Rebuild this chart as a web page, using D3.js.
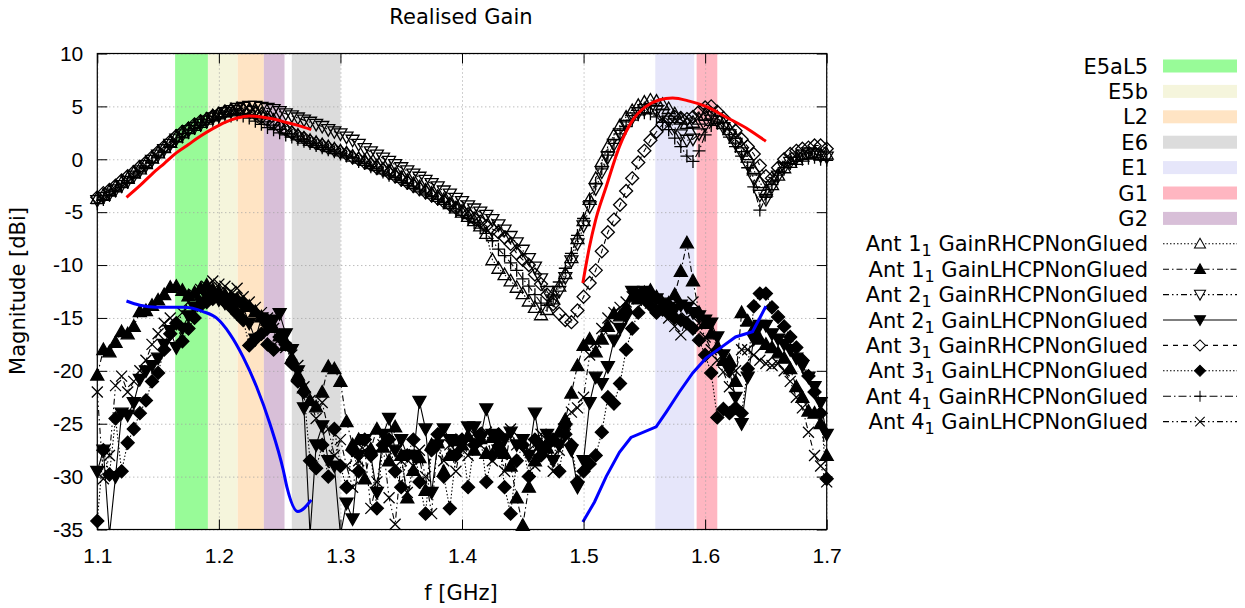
<!DOCTYPE html>
<html lang="en">
<head>
<meta charset="utf-8">
<title>Realised Gain</title>
<script src="https://d3js.org/d3.v7.min.js"></script>
<style>
  body { margin: 0; background: white; }
  svg { font-family: "DejaVu Sans", Verdana, sans-serif; }
  .grid line { stroke: #a0a0a0; stroke-dasharray: 1,3; }
  .axis text { font-size: 21px; fill: #000; }
  .axis line { stroke: #000; }
</style>
</head>
<body>
<div id="chart"></div>
<script>
// frequency grid (GHz), one sample every 5 MHz from 1.100 to 1.700
var freqStart = 1.1, freqStep = 0.005, freqCount = 121;

// RHCP / LHCP realised gain per antenna (dBi)
var ant1Rhcp = [
  -3.7,-3.4,-3.0,-2.6,-2.2,-1.8,-1.3,-0.9,-0.4,0.1,
  0.6,1.1,1.6,2.1,2.5,2.9,3.2,3.5,3.8,4.1,
  4.3,4.5,4.7,4.8,4.8,4.7,4.5,4.3,4.0,3.7,
  3.3,2.9,2.6,2.3,2.0,1.8,1.6,1.4,1.2,1.0,
  0.8,0.6,0.3,0.1,-0.1,-0.4,-0.6,-0.9,-1.1,-1.4,
  -1.7,-2.0,-2.3,-2.6,-2.9,-3.2,-3.5,-3.8,-4.2,-4.6,
  -5.0,-5.4,-5.8,-6.3,-7.0,-9.5,-10.3,-10.9,-11.5,-12.1,
  -12.7,-13.4,-14.0,-14.7,-14.2,-13.2,-12.0,-10.8,-9.3,-7.5,
  -5.8,-3.8,-1.8,-0.2,1.2,2.3,3.2,4.0,4.6,5.1,
  5.4,5.6,5.5,5.2,4.8,4.3,3.8,3.4,3.5,3.8,
  4.2,4.3,4.0,3.4,2.8,2.0,1.2,0.2,-1.0,-2.2,
  -3.0,-2.4,-1.5,-0.8,-0.3,0.0,0.3,0.5,0.6,0.4,
  0.5];
var ant1Lhcp = [
  -20.4,-18.0,-18.2,-17.3,-16.3,-16.5,-15.8,-14.4,-14.3,-13.8,
  -13.3,-12.8,-12.1,-12.0,-12.4,-12.9,-12.6,-12.2,-11.9,-12.3,
  -12.5,-12.8,-13.0,-13.2,-13.5,-13.9,-14.4,-14.9,-15.2,-15.9,
  -16.7,-17.6,-18.8,-20.4,-21.6,-22.8,-23.4,-22.0,-19.6,-19.8,
  -21.0,-24.8,-27.0,-26.5,-30.2,-27.4,-25.5,-27.2,-28.5,-25.3,
  -28.0,-32.0,-29.4,-28.2,-31.3,-27.0,-26.8,-29.5,-28.0,-26.6,
  -27.0,-26.2,-27.5,-26.4,-27.8,-26.3,-26.9,-27.8,-29.0,-32.0,
  -34.6,-31.0,-28.5,-27.0,-27.3,-26.6,-25.8,-24.6,-22.1,-19.5,
  -17.6,-17.0,-18.2,-17.0,-15.8,-14.6,-14.8,-14.0,-13.0,-13.2,
  -12.6,-12.4,-13.0,-13.6,-13.6,-12.8,-10.6,-7.9,-11.5,-14.5,
  -15.5,-16.5,-17.8,-19.0,-19.0,-21.0,-14.5,-15.3,-16.0,-17.0,
  -17.5,-17.8,-18.3,-18.8,-19.8,-21.5,-22.5,-23.8,-24.0,-25.0,
  -28.0];
var ant2Rhcp = [
  -3.9,-3.6,-3.3,-2.9,-2.5,-2.1,-1.6,-1.1,-0.6,-0.1,
  0.4,0.9,1.4,1.9,2.3,2.7,3.0,3.3,3.6,3.9,
  4.1,4.4,4.6,4.8,4.9,5.0,5.0,4.9,4.8,4.7,
  4.5,4.3,4.1,3.9,3.7,3.5,3.3,3.1,2.8,2.6,
  2.4,2.1,1.8,1.4,1.0,0.7,0.4,0.1,-0.2,-0.5,
  -0.8,-1.1,-1.4,-1.7,-2.0,-2.3,-2.6,-3.0,-3.3,-3.7,
  -4.0,-4.4,-4.7,-5.0,-5.3,-5.7,-6.2,-6.7,-7.3,-7.9,
  -8.6,-9.4,-10.2,-11.3,-12.5,-13.3,-12.5,-11.2,-9.6,-8.0,
  -6.3,-4.5,-2.8,-1.2,0.2,1.4,2.4,3.2,3.9,4.4,
  4.7,4.8,4.6,4.2,3.6,3.0,2.3,1.8,1.9,2.4,
  3.2,3.7,3.6,3.0,2.3,1.5,0.6,-0.5,-1.8,-3.4,
  -3.8,-2.6,-1.6,-0.8,-0.3,0.1,0.4,0.6,0.5,0.3,
  0.2];
var ant2Lhcp = [
  -29.5,-27.5,-35.5,-30.0,-24.0,-24.2,-23.0,-20.8,-20.0,-19.5,
  -18.8,-17.5,-16.2,-17.8,-16.0,-14.8,-14.0,-13.5,-13.0,-12.8,
  -13.3,-13.6,-13.2,-13.5,-14.0,-15.5,-17.0,-15.0,-16.0,-15.2,
  -14.6,-16.5,-18.0,-20.0,-23.5,-35.5,-27.0,-25.2,-28.5,-29.0,
  -35.5,-32.5,-34.0,-28.0,-26.5,-28.0,-31.5,-26.0,-24.5,-27.5,
  -26.5,-28.0,-28.0,-22.9,-25.5,-31.5,-27.0,-25.5,-26.5,-28.0,
  -27.0,-25.3,-25.3,-26.5,-23.6,-26.0,-27.5,-26.5,-25.8,-27.0,
  -26.5,-28.0,-24.0,-27.5,-26.0,-28.5,-27.0,-25.5,-27.5,-31.0,
  -28.5,-23.0,-20.6,-21.2,-19.6,-17.1,-16.0,-14.9,-12.5,-12.8,
  -12.5,-13.0,-13.2,-13.6,-14.0,-14.2,-13.8,-14.0,-14.5,-14.8,
  -15.2,-15.5,-16.8,-18.5,-20.0,-22.5,-25.0,-20.6,-17.0,-15.7,
  -15.7,-16.5,-17.0,-17.5,-18.0,-18.8,-19.5,-20.6,-21.5,-23.0,
  -26.0];
var ant3Rhcp = [
  -3.6,-3.2,-2.9,-2.5,-2.0,-1.6,-1.2,-0.7,-0.3,0.2,
  0.7,1.2,1.7,2.2,2.6,2.9,3.3,3.6,3.8,4.1,
  4.3,4.5,4.6,4.7,4.6,4.5,4.3,4.0,3.7,3.4,
  3.1,2.8,2.5,2.2,2.0,1.7,1.5,1.3,1.1,0.9,
  0.7,0.5,0.2,0.0,-0.3,-0.5,-0.8,-1.0,-1.3,-1.6,
  -1.9,-2.2,-2.5,-2.8,-3.1,-3.4,-3.7,-4.0,-4.3,-4.6,
  -4.9,-5.2,-5.6,-5.9,-6.3,-6.6,-6.9,-7.4,-8.0,-8.9,
  -9.5,-10.0,-10.9,-11.8,-12.8,-13.7,-14.6,-15.2,-15.4,-14.3,
  -13.0,-11.7,-10.5,-8.7,-6.9,-5.7,-4.3,-3.0,-1.8,-0.3,
  0.8,1.8,2.6,3.3,3.8,4.0,3.9,3.8,4.0,4.5,
  4.9,5.0,4.5,3.9,3.3,2.7,1.9,1.2,0.5,-0.6,
  -1.6,-1.8,-0.8,0.0,0.5,0.8,1.0,1.1,1.3,1.3,
  1.0];
var ant3Lhcp = [
  -34.2,-27.5,-29.8,-24.5,-29.5,-26.8,-25.5,-24.0,-22.8,-21.0,
  -20.2,-18.0,-16.5,-15.5,-17.2,-16.0,-15.0,-13.8,-13.5,-13.2,
  -13.0,-13.5,-14.0,-14.6,-15.2,-17.6,-17.0,-16.5,-17.5,-18.0,
  -16.8,-17.5,-19.3,-21.0,-22.0,-28.5,-29.2,-27.0,-30.0,-25.5,
  -29.0,-31.0,-27.5,-29.5,-26.5,-28.0,-33.0,-27.0,-26.5,-29.5,
  -31.0,-28.0,-26.5,-30.5,-33.5,-27.5,-26.0,-30.0,-33.0,-28.0,
  -26.5,-31.0,-27.0,-26.0,-30.5,-28.0,-26.0,-31.0,-33.5,-28.5,
  -27.0,-30.0,-26.5,-28.0,-27.0,-26.5,-29.5,-26.0,-27.0,-30.5,
  -29.5,-28.8,-28.0,-25.8,-22.5,-23.1,-21.2,-18.0,-16.0,-14.5,
  -13.2,-13.8,-14.5,-14.2,-14.6,-15.0,-15.2,-15.5,-16.0,-17.1,
  -18.5,-20.2,-24.4,-23.6,-24.0,-23.5,-24.0,-19.8,-13.9,-12.7,
  -12.7,-14.0,-14.9,-15.8,-16.8,-17.8,-19.0,-20.5,-22.0,-24.0,
  -30.2];
var ant4Rhcp = [
  -4.2,-3.8,-3.4,-3.0,-2.6,-2.2,-1.7,-1.2,-0.8,-0.3,
  0.2,0.7,1.2,1.7,2.1,2.5,2.9,3.2,3.5,3.7,
  3.9,4.0,4.1,4.2,4.1,3.9,3.6,3.3,3.0,2.8,
  2.5,2.3,2.1,1.9,1.7,1.5,1.3,1.1,0.9,0.7,
  0.5,0.3,0.1,-0.2,-0.4,-0.7,-0.9,-1.2,-1.5,-1.7,
  -2.0,-2.3,-2.6,-2.9,-3.2,-3.5,-3.8,-4.1,-4.5,-4.9,
  -5.3,-5.6,-6.0,-6.5,-7.0,-7.7,-8.5,-9.1,-9.8,-10.5,
  -11.3,-12.0,-12.8,-13.6,-13.8,-13.0,-11.6,-10.3,-8.9,-7.2,
  -5.6,-3.9,-2.3,-0.9,0.4,1.5,2.4,3.1,3.7,4.2,
  4.4,4.3,4.0,3.5,2.8,2.0,1.2,0.3,-0.2,0.8,
  2.3,3.2,3.4,2.9,2.1,1.2,0.3,-0.8,-2.6,-4.8,
  -3.6,-2.4,-1.5,-0.8,-0.4,-0.2,0.0,0.1,0.2,0.0,
  -0.1];
var ant4Lhcp = [
  -22.0,-30.2,-28.0,-21.4,-20.5,-22.0,-21.0,-20.0,-19.0,-17.5,
  -16.5,-15.5,-15.0,-15.8,-14.5,-13.5,-12.8,-12.3,-12.0,-11.5,
  -11.8,-12.0,-12.5,-12.2,-13.0,-13.5,-14.0,-14.5,-15.0,-16.0,
  -17.0,-17.8,-18.5,-19.5,-21.5,-22.8,-24.5,-23.0,-25.5,-28.0,
  -26.5,-29.0,-31.0,-28.5,-27.5,-33.0,-30.5,-27.0,-32.0,-34.5,
  -28.5,-31.5,-29.0,-27.5,-30.0,-33.5,-26.5,-28.5,-27.0,-29.5,
  -26.5,-28.0,-26.0,-27.0,-25.8,-28.5,-26.5,-29.5,-25.5,-27.0,
  -26.5,-27.5,-29.0,-26.0,-28.0,-29.5,-27.5,-26.0,-23.9,-23.5,
  -22.5,-18.5,-17.3,-16.0,-15.0,-14.5,-14.0,-13.5,-13.0,-13.2,
  -13.4,-13.6,-14.0,-14.4,-15.0,-15.8,-16.6,-15.0,-13.5,-15.5,
  -16.8,-18.0,-19.0,-20.1,-21.5,-20.0,-18.0,-18.0,-18.5,-19.0,
  -19.3,-19.5,-19.3,-20.0,-21.0,-22.5,-23.5,-25.8,-28.0,-29.0,
  -30.5];

// reference curves (freq, dBi) - red for RHCP, blue for LHCP
var redLow = [[1.124,-3.6],[1.135,-2.5],[1.145,-1.4],[1.155,-0.4],[1.165,0.6],[1.175,1.4],
  [1.185,2.2],[1.195,2.9],[1.205,3.5],[1.215,3.9],[1.225,4.1],[1.235,4.0],[1.245,3.8],
  [1.255,3.5],[1.265,3.2],[1.276,2.8]];
var redHigh = [[1.4994,-11.7],[1.5048,-8.3],[1.510,-5.7],[1.5186,-2.6],[1.5295,1.2],[1.5404,3.7],
  [1.5514,5.0],[1.562,5.6],[1.5733,5.8],[1.587,5.5],[1.6007,5.0],[1.617,4.0],[1.636,2.8],[1.650,1.7]];
var blueLow = [[1.124,-13.4],[1.135,-13.8],[1.149,-14.0],[1.171,-14.0],[1.187,-14.4],[1.198,-15.0],
  [1.209,-16.5],[1.220,-18.7],[1.231,-21.5],[1.242,-25.0],[1.253,-29.4],[1.256,-31.0],[1.265,-33.3],[1.276,-32.2]];
var blueHigh = [[1.4994,-34.3],[1.509,-32.4],[1.5186,-30.0],[1.5295,-27.7],[1.539,-26.3],[1.5597,-25.3],
  [1.568,-23.9],[1.5788,-22.0],[1.5898,-20.2],[1.6007,-18.8],[1.6117,-17.9],[1.625,-16.8],[1.639,-16.3],[1.650,-13.9]];

// GNSS bands (GHz)
var bandNames = ["E5aL5", "E5b", "L2", "E6", "E1", "G1", "G2"];
var bandLo = [1.164, 1.191, 1.2155, 1.260, 1.559, 1.593, 1.237];
var bandHi = [1.191, 1.2155, 1.237, 1.300, 1.591, 1.610, 1.254];

var seriesNames = ["Ant 1|GainRHCPNonGlued", "Ant 1|GainLHCPNonGlued", "Ant 2|GainRHCPNonGlued",
  "Ant 2|GainLHCPNonGlued", "Ant 3|GainRHCPNonGlued", "Ant 3|GainLHCPNonGlued",
  "Ant 4|GainRHCPNonGlued", "Ant 4|GainLHCPNonGlued"];
var seriesValues = [ant1Rhcp, ant1Lhcp, ant2Rhcp, ant2Lhcp, ant3Rhcp, ant3Lhcp, ant4Rhcp, ant4Lhcp];

var xTicks = [1.1, 1.2, 1.3, 1.4, 1.5, 1.6, 1.7];
var yTicks = [10, 5, 0, -5, -10, -15, -20, -25, -30, -35];

// styles
var bandColors = ["#98fb98", "#f5f5dc", "#ffe4c4", "#dcdcdc", "#e6e6fa", "#ffb6c1", "#d8bfd8"];
var shapes = {
  triUp: "M0,-6.5L6.5,5L-6.5,5Z",
  triDown: "M0,6.5L6.5,-5L-6.5,-5Z",
  diamond: "M0,-6.5L6.5,0L0,6.5L-6.5,0Z",
  plus: "M-6.5,0H6.5M0,-6.5V6.5",
  cross: "M-5.5,-5.5L5.5,5.5M-5.5,5.5L5.5,-5.5"
};
var seriesStyle = [
  {shape: "triUp", fill: "none", dash: "1.5,2"},
  {shape: "triUp", fill: "#000", dash: "6,3,1.5,3"},
  {shape: "triDown", fill: "none", dash: "6,3,1.5,3,1.5,3"},
  {shape: "triDown", fill: "#000", dash: null},
  {shape: "diamond", fill: "none", dash: "5,5"},
  {shape: "diamond", fill: "#000", dash: "1.5,2"},
  {shape: "plus", fill: "none", dash: "8,3,1.5,3"},
  {shape: "cross", fill: "none", dash: "6,3,1.5,3,1.5,3"}
];

var margin = {top: 53.5, left: 97.3},
    width = 729.4,
    height = 476;

var svg = d3.select("#chart")
  .append("svg")
    .attr("width", 1245)
    .attr("height", 608);

var g = svg.append("g")
    .attr("transform", "translate(" + margin.left + "," + margin.top + ")");

var x = d3.scaleLinear().domain([1.1, 1.7]).range([0, width]);
var y = d3.scaleLinear().domain([-35, 10]).range([height, 0]);

g.append("clipPath").attr("id", "clip")
  .append("rect").attr("width", width).attr("height", height);

// bands
bandNames.forEach(function(name, i) {
  g.append("rect")
    .attr("x", x(bandLo[i]))
    .attr("y", 0)
    .attr("width", x(bandHi[i]) - x(bandLo[i]))
    .attr("height", height)
    .attr("fill", bandColors[i]);
});

// grid
g.append("g")
  .attr("class", "grid")
  .attr("transform", "translate(0," + height + ")")
  .call(d3.axisBottom(x).tickValues(xTicks).tickSize(-height).tickFormat(""))
  .call(function(s) { s.select(".domain").remove(); });
g.append("g")
  .attr("class", "grid")
  .call(d3.axisLeft(y).tickValues(yTicks).tickSize(-width).tickFormat(""))
  .call(function(s) { s.select(".domain").remove(); });

var freqs = d3.range(freqCount).map(function(i) { return freqStart + i * freqStep; });

var line = d3.line()
  .x(function(d) { return x(d[0]); })
  .y(function(d) { return y(d[1]); });

// measured series
seriesValues.forEach(function(vals, k) {
  var st = seriesStyle[k];
  var pts = vals.map(function(v, i) { return [freqs[i], v]; });
  g.append("path")
    .datum(pts)
    .attr("clip-path", "url(#clip)")
    .attr("fill", "none")
    .attr("stroke", "#000")
    .attr("stroke-width", 1.1)
    .attr("stroke-dasharray", st.dash)
    .attr("d", line);
  g.append("g").selectAll("path")
    .data(pts.filter(function(d) { return d[1] >= -35 && d[1] <= 10; }))
    .enter()
    .append("path")
      .attr("transform", function(d) { return "translate(" + x(d[0]) + "," + y(d[1]) + ")"; })
      .attr("d", shapes[st.shape])
      .attr("fill", st.fill)
      .attr("stroke", "#000")
      .attr("stroke-width", 1.3);
});

// red / blue curves
var smooth = d3.line()
  .x(function(d) { return x(d[0]); })
  .y(function(d) { return y(d[1]); })
  .curve(d3.curveMonotoneX);
[[redLow, "#ff0000", smooth], [redHigh, "#ff0000", smooth],
 [blueLow, "#0000ff", smooth], [blueHigh, "#0000ff", line]].forEach(function(c) {
  g.append("path")
    .datum(c[0])
    .attr("clip-path", "url(#clip)")
    .attr("fill", "none")
    .attr("stroke", c[1])
    .attr("stroke-width", 3)
    .attr("d", c[2]);
});

// axes, ticks mirrored inward
g.append("g")
  .attr("class", "axis")
  .attr("transform", "translate(0," + height + ")")
  .call(d3.axisBottom(x).tickValues(xTicks).tickSize(-10).tickSizeOuter(0).tickPadding(19)
    .tickFormat(function(d) { return d.toFixed(1); }))
  .call(function(s) { s.select(".domain").remove(); });
g.append("g")
  .attr("class", "axis")
  .call(d3.axisTop(x).tickValues(xTicks).tickSize(-10).tickFormat(""))
  .call(function(s) { s.select(".domain").remove(); });
g.append("g")
  .attr("class", "axis")
  .call(d3.axisLeft(y).tickValues(yTicks).tickSize(-10).tickPadding(14)
    .tickFormat(function(d) { return String(d); }))
  .call(function(s) { s.select(".domain").remove(); });
g.append("g")
  .attr("class", "axis")
  .attr("transform", "translate(" + width + ",0)")
  .call(d3.axisRight(y).tickValues(yTicks).tickSize(-10).tickFormat(""))
  .call(function(s) { s.select(".domain").remove(); });

g.append("rect")
  .attr("width", width)
  .attr("height", height)
  .attr("fill", "none")
  .attr("stroke", "#000")
  .attr("stroke-width", 1.2);

// titles
svg.append("text")
  .attr("x", 461).attr("y", 24)
  .style("text-anchor", "middle")
  .style("font-size", "21px")
  .text("Realised Gain");
svg.append("text")
  .attr("x", 461).attr("y", 600)
  .style("text-anchor", "middle")
  .style("font-size", "21px")
  .text("f [GHz]");
svg.append("text")
  .attr("transform", "translate(25,291) rotate(-90)")
  .style("text-anchor", "middle")
  .style("font-size", "21px")
  .text("Magnitude [dBi]");

// legend
var legX = 1148, sampleX0 = 1163, sampleX1 = 1237, rowY0 = 66, rowH = 25.4;
var legend = svg.append("g").style("font-size", "21px");

bandNames.forEach(function(name, i) {
  var cy = rowY0 + i * rowH;
  legend.append("text")
    .attr("x", legX).attr("y", cy).attr("dy", "0.36em")
    .style("text-anchor", "end")
    .text(name);
  legend.append("rect")
    .attr("x", sampleX0).attr("y", cy - 6.5)
    .attr("width", sampleX1 - sampleX0).attr("height", 13)
    .attr("fill", bandColors[i]);
});

seriesNames.forEach(function(name, k) {
  var cy = rowY0 + (bandNames.length + k) * rowH;
  var st = seriesStyle[k];
  var parts = name.split("|");
  var t = legend.append("text")
    .attr("x", legX).attr("y", cy).attr("dy", "0.36em")
    .style("text-anchor", "end");
  t.append("tspan").text(parts[0]);
  t.append("tspan").attr("dy", "5").style("font-size", "16px").text("1");
  t.append("tspan").attr("dy", "-5").text(" " + parts[1]);
  legend.append("line")
    .attr("x1", sampleX0).attr("x2", sampleX1)
    .attr("y1", cy).attr("y2", cy)
    .attr("stroke", "#000")
    .attr("stroke-width", 1.1)
    .attr("stroke-dasharray", st.dash);
  legend.append("path")
    .attr("transform", "translate(" + ((sampleX0 + sampleX1) / 2) + "," + cy + ") scale(0.85)")
    .attr("d", shapes[st.shape])
    .attr("fill", st.fill === "none" ? "#fff" : st.fill)
    .attr("stroke", "#000")
    .attr("stroke-width", 1.2);
});
</script>
</body>
</html>
